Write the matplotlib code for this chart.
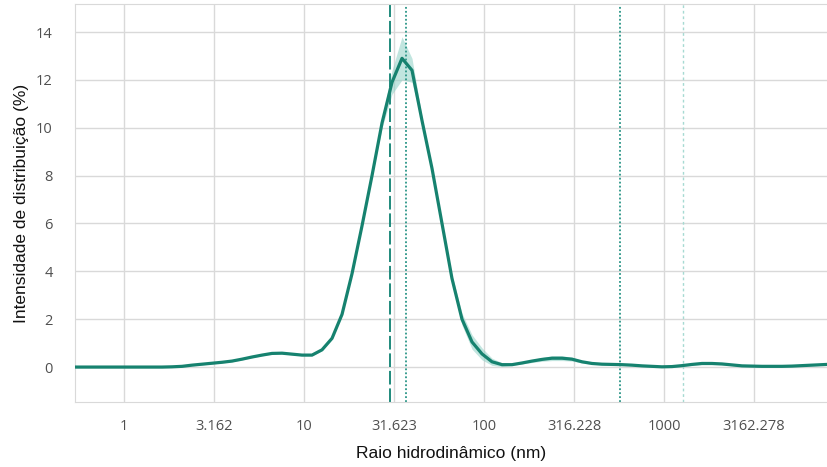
import matplotlib
matplotlib.use("Agg")
import matplotlib.pyplot as plt
import numpy as np

# hydrodynamic radius bins (nm)
radius_nm = [0.514, 0.584, 0.664, 0.755, 0.858, 0.975, 1.108, 1.259, 1.431, 1.626,
             1.848, 2.100, 2.387, 2.713, 3.083, 3.503, 3.981, 4.524, 5.142, 5.843,
             6.640, 7.546, 8.577, 9.747, 11.08, 12.59, 14.31, 16.26, 18.48, 21.00,
             23.87, 27.13, 30.83, 35.03, 39.81, 45.24, 51.42, 58.43, 66.40, 75.46,
             85.77, 97.47, 110.8, 125.9, 143.1, 162.6, 184.8, 210.0, 238.7, 271.3,
             308.3, 350.3, 398.1, 452.4, 514.2, 584.3, 664.0, 754.6, 857.7, 974.7,
             1108, 1259, 1431, 1626, 1848, 2100, 2387, 2713, 3083, 3503,
             3981, 4524, 5142, 5843, 6640, 7546, 8577]

# intensity distribution (%)
intensity = [0.0, 0.0, 0.0, 0.0, 0.0, 0.0, 0.0, 0.0, 0.0, 0.0,
             0.01, 0.03, 0.08, 0.12, 0.16, 0.2, 0.25, 0.33, 0.42, 0.5,
             0.57, 0.58, 0.54, 0.5, 0.5, 0.72, 1.2, 2.2, 3.9, 5.9,
             8.0, 10.2, 11.9, 12.9, 12.4, 10.3, 8.3, 6.0, 3.7, 2.0,
             1.05, 0.55, 0.22, 0.1, 0.1, 0.17, 0.25, 0.32, 0.37, 0.37,
             0.33, 0.22, 0.15, 0.12, 0.11, 0.1, 0.08, 0.05, 0.03, 0.01,
             0.02, 0.06, 0.11, 0.15, 0.15, 0.13, 0.09, 0.05, 0.04, 0.03,
             0.03, 0.03, 0.04, 0.06, 0.08, 0.1, 0.12]

# half width of the shaded variability band (%)
spread = [0.03] * 30 + [0.05, 0.2, 0.5, 0.9, 0.5, 0.15, 0.05, 0.05, 0.15, 0.25,
                        0.3, 0.25, 0.15, 0.08, 0.03, 0.04, 0.06, 0.08, 0.1, 0.1,
                        0.08, 0.05, 0.03, 0.03, 0.03, 0.03, 0.03, 0.03, 0.03, 0.03,
                        0.03, 0.03, 0.04, 0.05, 0.05, 0.04, 0.03, 0.03, 0.03, 0.03,
                        0.03, 0.03, 0.03, 0.03, 0.03, 0.03, 0.03]

dashed_line_x = 30.0
dotted_lines_x = [36.9, 570.0]
light_dotted_x = 1275.0

xticks = [1, 3.162, 10, 31.623, 100, 316.228, 1000, 3162.278]
xtick_labels = ["1", "3.162", "10", "31.623", "100", "316.228", "1000", "3162.278"]
yticks = [0, 2, 4, 6, 8, 10, 12, 14]

teal = "#16826f"

fig = plt.figure(figsize=(8.27, 4.67), dpi=100)
ax = fig.add_axes([75 / 827, 1 - 402 / 467, 1 - 75 / 827, (402 - 4) / 467])

y = np.array(intensity)
s = np.array(spread)
ax.fill_between(radius_nm, y - s, y + s, color="#8fd0c5", alpha=0.55, lw=0, zorder=2)
ax.plot(radius_nm, intensity, color=teal, lw=2.3, zorder=3, solid_joinstyle="round")

ax.axvline(dashed_line_x, color="#1f8a7c", lw=1.4, ls=(0, (7, 2)), zorder=2.5)
for xv in dotted_lines_x:
    ax.axvline(xv, color="#2a9587", lw=1.3, ls=(0, (1, 1.2)), zorder=2.5)
ax.axvline(light_dotted_x, color="#a6dad2", lw=1.0, ls=(0, (2, 2)), zorder=2.5)

ax.set_xscale("log")
ax.set_xlim(0.534, 8050)
ax.set_ylim(-1.46, 15.17)
ax.set_xticks(xticks)
ax.set_xticklabels(xtick_labels)
ax.xaxis.set_minor_locator(matplotlib.ticker.NullLocator())
ax.set_yticks(yticks)

ax.grid(True, color="#d9d9d9", lw=1.0, zorder=0)
ax.set_axisbelow(True)
ax.tick_params(axis="x", length=0, labelsize=10.5, labelcolor="#505050", pad=12)
ax.tick_params(axis="y", length=0, labelsize=10.5, labelcolor="#505050", pad=16)
for lbl in ax.get_xticklabels() + ax.get_yticklabels():
    lbl.set_family("Open Sans")
for side in ["left", "bottom", "top"]:
    ax.spines[side].set_color("#d9d9d9")
ax.spines["right"].set_visible(False)

ax.set_xlabel("Raio hidrodinâmico (nm)", family="Liberation Sans", fontsize=12.5,
              color="#111111", labelpad=9)
ax.set_ylabel("Intensidade de distribuição (%)", family="Liberation Sans", fontsize=12.5,
              color="#111111", labelpad=5)

fig.savefig("out.png", dpi=100)
